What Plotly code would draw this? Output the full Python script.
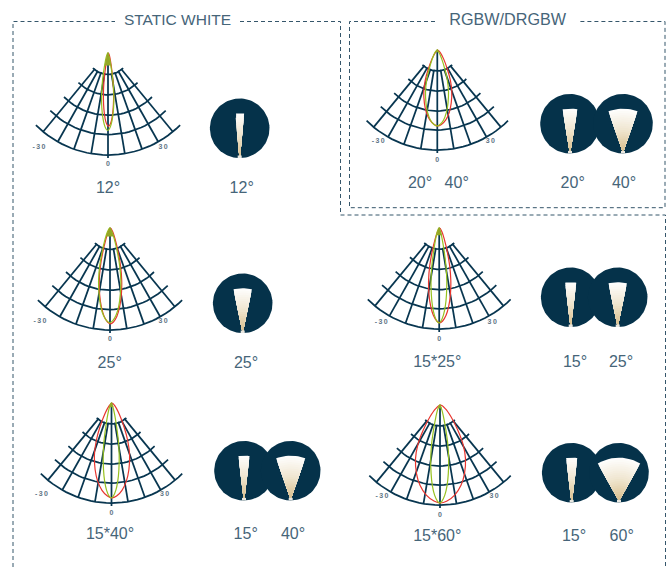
import numpy as np
import plotly.graph_objects as go

# ---------- values ----------
SPOKE_ANGLES = [-39.5, -29.5, -19.5, -9.5, 9.5, 19.5, 29.5, 39.5]
RING_RADII = [21, 41, 61, 80, 100]
STATIONS = [0, .04, .12, .25, .40, .55, .70, .82, .92, .98, 1]

names = ["a", "b", "c", "d", "e", "f"]
red_len = [72, 94, 95, 76, 94, 98]
green_len = [76, 93, 95, 76, 94, 98]
red_a = [0, 1, 2.1, 3.4, 4.5, 5, 4.8, 4.1, 2.9, 1.3, 0]
green_a = [0, 1.2, 2.5, 4.1, 5.4, 6, 5.8, 4.9, 3.4, 1.6, 0]
red_b = [0, 2.2, 4.6, 7.5, 9.9, 11, 10.6, 9, 6.3, 2.9, 0]
green_b = [0, 2.2, 4.6, 7.4, 9.8, 10.9, 10.4, 8.9, 6.2, 2.8, 0]
red_c = [0, 3.5, 7.4, 12, 15.8, 17.6, 16.9, 14.4, 10, 4.6, 0]
green_c = [0, 1.6, 3.4, 5.4, 7.2, 8, 7.7, 6.6, 4.6, 2.1, 0]
red_d = [0, 2.8, 5.9, 9.5, 12.6, 14, 13.4, 11.5, 8, 3.6, 0]
green_d = [0, 2.3, 4.8, 7.8, 10.4, 11.5, 11, 9.4, 6.6, 3, 0]
red_e = [0, 2.2, 4.6, 7.5, 9.9, 11, 10.6, 9, 6.3, 2.9, 0]
green_e = [0, 1.6, 3.3, 5.3, 7, 7.8, 7.5, 6.4, 4.4, 2, 0]
red_f = [0, 5, 10.5, 17, 22.5, 25, 24, 20.5, 14.2, 6.5, 0]
green_f = [0, 1.8, 3.8, 6.1, 8.1, 9, 8.6, 7.4, 5.1, 2.3, 0]
reds = [red_a, red_b, red_c, red_d, red_e, red_f]
greens = [green_a, green_b, green_c, green_d, green_e, green_f]
tip_depth = [12, 8, 4, 2, 7, 3]

beam_degrees = [[12], [25], [15, 40], [20, 40], [15, 25], [15, 60]]
chart_labels = [["12°"], ["25°"], ["15*40°"], ["20°", "40°"], ["15*25°"], ["15*60°"]]
beam_labels = [["12°"], ["25°"], ["15°", "40°"], ["20°", "40°"], ["15°", "25°"], ["15°", "60°"]]
tick_labels = ["-&#8201;3&#8201;0", "3&#8201;0", "0"]
titles = ["STATIC WHITE", "RGBW/DRGBW"]

# ---------- layout (pixel-like axis coordinates) ----------
W, H = 670, 567
panel_pole = [(108, 53), (110, 228), (111.5, 403), (437.3, 50), (439.2, 228), (440, 405)]
panel_R = [102, 102, 100, 100, 101, 100]
tick_dx = [(-69, 55), (-70, 53), (-70, 53), (-59, 53), (-58, 53), (-58, 54)]
tick_y = [(147, 164), (321.7, 339), (494, 513), (141.7, 160), (322, 339), (496.7, 515.7)]
chart_label_xy = [[(108, 189)], [(109.7, 363.5)], [(110, 535)], [(420, 184), (456.7, 184)],
                  [(437.3, 362.5)], [(437.3, 537)]]
circle_xy = [[(239.7, 128.3)], [(242.7, 303.3)], [(244, 470.7), (290.7, 470.7)],
             [(570, 123.7), (623, 123.7)], [(570.7, 297.3), (617.7, 297.3)],
             [(571.7, 472.7), (619, 472.7)]]
beam_label_xy = [[(241.7, 189)], [(246, 363.5)], [(245.7, 535), (293, 535)],
                 [(572.7, 184), (624, 184)], [(575, 362.5), (621, 362.5)],
                 [(574, 537), (621.7, 537)]]

NAVY = "#05324a"
GRID = "#083650"
RED = "#e8352e"
GREEN = "#97c11f"
OLIVE = "#93a826"
TEXT = "#466579"
TICK = "#5f7686"
DASH = "#35566b"

fig = go.Figure()


def line(xs, ys, color, width, dash=None, shape="linear"):
    fig.add_trace(go.Scatter(x=xs, y=ys, mode="lines", hoverinfo="skip",
                             line=dict(color=color, width=width, dash=dash, shape=shape,
                                       smoothing=1.0 if shape == "spline" else None)))


def polar_xy(pole, R, ang, r):
    a = np.radians(np.asarray(ang, float))
    r = np.asarray(r, float) * R / 100
    return pole[0] + r * np.sin(a), pole[1] + r * np.cos(a)


# frames
line([13, 13, 115], [567, 21.5, 21.5], DASH, 1, "4px,3px")
line([240, 340.5, 340.5, 665.5, 665.5], [21.5, 21.5, 215, 215, 567], DASH, 1, "4px,3px")
line([435, 349.5, 349.5, 665, 665, 580], [21.5, 21.5, 207.7, 207.7, 21.5, 21.5], DASH, 1, "4px,3px")

# polar charts
for i, pole in enumerate(panel_pole):
    R = panel_R[i]
    for rr in RING_RADII:
        ang = np.arange(-45, 45.5, 3)
        x, y = polar_xy(pole, R, ang, np.full(ang.shape, rr))
        line(x.tolist(), y.tolist(), GRID, 1.75)
    for ang in SPOKE_ANGLES:
        x, y = polar_xy(pole, R, [ang, ang], [RING_RADII[0] - 1, RING_RADII[-1]])
        line(x.tolist(), y.tolist(), GRID, 1.75)
    x, y = polar_xy(pole, R, [0, 0], [0, 103])
    line(x.tolist(), y.tolist(), GRID, 1.75)

    for vals, L, col, shift in ((reds[i], red_len[i], RED, 0.5), (greens[i], green_len[i], GREEN, -0.3)):
        hw = np.array(vals) * R / 100
        ys = pole[1] + np.array(STATIONS) * L * R / 100
        xs = np.concatenate([pole[0] + shift - hw, (pole[0] + shift + hw)[-2::-1]])
        yy = np.concatenate([ys, ys[-2::-1]])
        line(xs.tolist(), yy.tolist(), col, 1.2, shape="spline")

    # olive tip where both lines overlap
    d = tip_depth[i]
    tw = float(np.interp(d / green_len[i], STATIONS, greens[i])) * R / 100
    fig.add_trace(go.Scatter(x=[pole[0], pole[0] - tw, pole[0] + tw, pole[0]],
                             y=[pole[1] - 1, pole[1] + d * R / 100, pole[1] + d * R / 100, pole[1] - 1],
                             mode="lines", fill="toself", fillcolor=OLIVE,
                             line=dict(color=OLIVE, width=0.5), hoverinfo="skip"))

# circles with beams
GRAD = [(0.0, (217, 191, 140)), (0.5, (240, 230, 208)), (1.0, (255, 255, 255))]


def grad(t):
    ts = [g[0] for g in GRAD]
    return "rgb(%d,%d,%d)" % tuple(np.interp(t, ts, [g[1][k] for g in GRAD]) for k in range(3))


CIRC = np.radians(np.linspace(0, 360, 91))
for group in circle_xy:
    for cx, cy in group:
        fig.add_trace(go.Scatter(x=(cx + 29.8 * np.sin(CIRC)).tolist(), y=(cy + 29.8 * np.cos(CIRC)).tolist(),
                                 mode="lines", fill="toself", fillcolor=NAVY,
                                 line=dict(color=NAVY, width=0), hoverinfo="skip"))

for group, degs in zip(circle_xy, beam_degrees):
    for (cx, cy), deg in zip(group, degs):
        ax, ay = cx, cy + 27.5
        half = np.radians(deg / 2)
        BL = 42.5
        n = 20
        # wedges painted from the longest to the shortest, so the bands cannot show seams
        for k in range(n, 0, -1):
            r1 = BL * k / n
            th = np.linspace(-half, half, 13)
            xo = ax + r1 * np.sin(th) + 0.5 * th / half * (1 - r1 / BL)
            yo = ay - r1 * np.cos(th)
            col = grad((k - 0.5) / n)
            fig.add_trace(go.Scatter(x=np.r_[ax - 0.5, xo, ax + 0.5, ax - 0.5].tolist(),
                                     y=np.r_[ay, yo, ay, ay].tolist(),
                                     mode="lines", fill="toself", fillcolor=col,
                                     line=dict(color=col, width=0), hoverinfo="skip"))
        fig.add_trace(go.Scatter(x=[cx - 2, cx + 2, cx + 2, cx - 2, cx - 2],
                                 y=[ay - .3, ay - .3, ay + 2.2, ay + 2.2, ay - .3],
                                 mode="lines", fill="toself", fillcolor="#e9e7e0",
                                 line=dict(color="#e9e7e0", width=0), hoverinfo="skip"))

# texts
tx, ty, tt = [], [], []
for group, labs in list(zip(chart_label_xy, chart_labels)) + list(zip(beam_label_xy, beam_labels)):
    for (x, y), s in zip(group, labs):
        tx.append(x); ty.append(y); tt.append(s)
fig.add_trace(go.Scatter(x=tx, y=ty, text=tt, mode="text", hoverinfo="skip",
                         textfont=dict(family="Liberation Sans", size=16, color=TEXT)))

kx, ky, kt = [], [], []
for i, pole in enumerate(panel_pole):
    kx += [pole[0] + tick_dx[i][0], pole[0] + tick_dx[i][1], pole[0]]
    ky += [tick_y[i][0], tick_y[i][0], tick_y[i][1]]
    kt += tick_labels
fig.add_trace(go.Scatter(x=kx, y=ky, text=kt, mode="text", hoverinfo="skip",
                         textfont=dict(family="Liberation Sans", size=7, color=TICK, weight="bold")))

fig.add_trace(go.Scatter(x=[177.5, 507.7], y=[21, 21], text=titles, mode="text", hoverinfo="skip",
                         textfont=dict(family="Liberation Sans", size=[15.5, 16.2], color=TEXT)))

fig.update_layout(width=W, height=H, margin=dict(l=0, r=0, t=0, b=0), showlegend=False,
                  paper_bgcolor="white", plot_bgcolor="white",
                  xaxis=dict(range=[0, W], visible=False, fixedrange=True),
                  yaxis=dict(range=[H, 0], visible=False, fixedrange=True))
fig.write_html("out.html", config={"displayModeBar": False},
               post_script="document.body.style.margin='0';document.body.style.overflow='hidden';")
